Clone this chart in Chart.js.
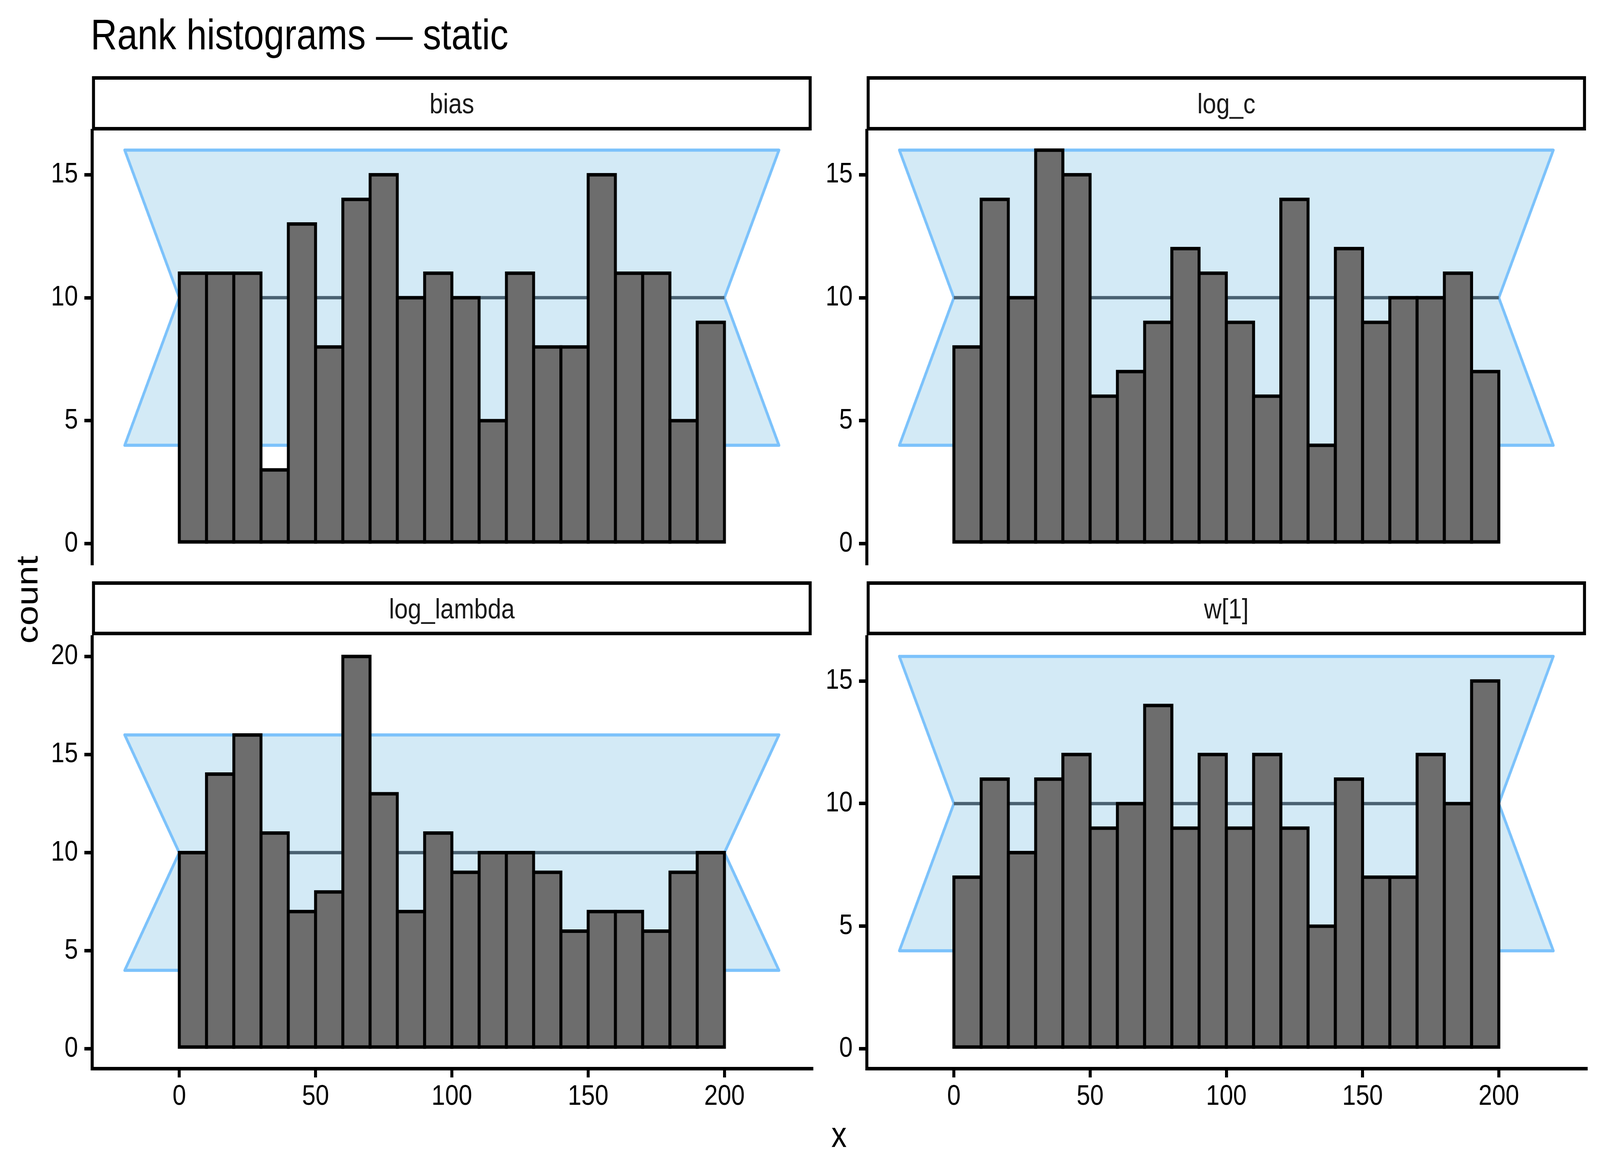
<!DOCTYPE html>
<html>
<head>
<meta charset="utf-8">
<script src="https://cdn.jsdelivr.net/npm/chart.js@4.4.1/dist/chart.umd.min.js"></script>
<style>
html, body { margin: 0; padding: 0; background: #fff; overflow: hidden; }
#root { position: absolute; left: 0; top: 0; width: 4800px; height: 3000px; background: #fff; overflow: hidden;
  transform-origin: 0 0; font-family: "Liberation Sans", Arial, sans-serif; }
canvas { position: absolute; }
.strip { position: absolute; box-sizing: border-box; border: 9px solid #000; background: #fff;
  display: flex; align-items: center; justify-content: center;
  font-size: 73px; line-height: 73px; color: #1a1a1a; white-space: nowrap; }
.title { position: absolute; left: 272px; top: 33px; font-size: 110px; line-height: 110px; color: #000; white-space: nowrap; }
.xtitle { position: absolute; left: 2317px; width: 400px; top: 2858px; text-align: center; font-size: 92px; line-height: 92px; color: #000; }
.ytitle { position: absolute; left: -120px; width: 400px; top: 1489px; height: 92px; text-align: center;
  font-size: 92px; line-height: 92px; color: #000; transform: rotate(-90deg); }
</style>
</head>
<body>
<div id="root">
  <div class="title">Rank histograms — static</div>
  <div class="strip" id="s0"></div>
  <div class="strip" id="s1"></div>
  <div class="strip" id="s2"></div>
  <div class="strip" id="s3"></div>
  <canvas id="c0"></canvas>
  <canvas id="c1"></canvas>
  <canvas id="c2"></canvas>
  <canvas id="c3"></canvas>
  <div class="xtitle">x</div>
  <div class="ytitle">count</div>
</div>
<script>
// ---- data ----
const panelNames = ['bias', 'log_c', 'log_lambda', 'w[1]'];
const binCenters = [5, 15, 25, 35, 45, 55, 65, 75, 85, 95, 105, 115, 125, 135, 145, 155, 165, 175, 185, 195];
const biasCounts      = [11, 11, 11, 3, 13, 8, 14, 15, 10, 11, 10, 5, 11, 8, 8, 15, 11, 11, 5, 9];
const logCCounts      = [8, 14, 10, 16, 15, 6, 7, 9, 12, 11, 9, 6, 14, 4, 12, 9, 10, 10, 11, 7];
const logLambdaCounts = [10, 14, 16, 11, 7, 8, 20, 13, 7, 11, 9, 10, 10, 9, 6, 7, 7, 6, 9, 10];
const w1Counts        = [7, 11, 8, 11, 12, 9, 10, 14, 9, 12, 9, 12, 9, 5, 11, 7, 7, 12, 10, 15];
// confidence band polygon (vertex list, closed)
const bandX = [-20, 0, -20, 220, 200, 220, -20];
const bandY = [16, 10, 4, 4, 10, 16, 16];
// expected count line
const meanX = [0, 200];
const meanY = [10, 10];
// tick labels
const xTicks = [0, 50, 100, 150, 200];
const yTicks15 = [0, 5, 10, 15];
const yTicks20 = [0, 5, 10, 15, 20];
// axis limits
const xLimits = [-32, 232];
const yLimits16 = [-0.8, 16.8];
const yLimits20 = [-1, 21];

// ---- fit page to viewport ----
const root = document.getElementById('root');
function fit() {
  const sx = window.innerWidth / 4800, sy = window.innerHeight / 3000;
  root.style.transform = 'scale(' + sx + ',' + sy + ')';
}
fit();
window.addEventListener('resize', fit);

// ---- styling / layout ----
Chart.defaults.font.family = '"Liberation Sans", Arial, sans-serif';
const Y_W = 200, X_H = 140, PAD = 10;
const layout = [
  { strip: [276, 195, 2159, 139], canvas: [76, 324], plotW: 2159, plotH: 1108, showX: false },
  { strip: [2600, 195, 2158, 139], canvas: [2400, 324], plotW: 2158, plotH: 1108, showX: false },
  { strip: [276, 1488, 2159, 138], canvas: [76, 1620], plotW: 2159, plotH: 1105, showX: true },
  { strip: [2600, 1488, 2158, 138], canvas: [2400, 1620], plotW: 2158, plotH: 1105, showX: true }
];
const panelCounts = [biasCounts, logCCounts, logLambdaCounts, w1Counts];
const panelYLim = [yLimits16, yLimits16, yLimits20, yLimits16];
const panelYTicks = [yTicks15, yTicks15, yTicks20, yTicks15];

function toPts(xs, ys) { return xs.map((x, i) => ({ x: x, y: ys[i] })); }

panelNames.forEach((name, i) => {
  const L = layout[i];
  const s = document.getElementById('s' + i);
  s.textContent = name;
  s.style.left = L.strip[0] + 'px'; s.style.top = L.strip[1] + 'px';
  s.style.width = L.strip[2] + 'px'; s.style.height = L.strip[3] + 'px';

  const cv = document.getElementById('c' + i);
  const w = Y_W + L.plotW + PAD;
  const h = PAD + L.plotH + (L.showX ? X_H : PAD);
  cv.width = w; cv.height = h;
  cv.style.width = w + 'px'; cv.style.height = h + 'px';
  cv.style.left = L.canvas[0] + 'px'; cv.style.top = L.canvas[1] + 'px';

  const counts = panelCounts[i];
  const gridOpts = { display: true, drawOnChartArea: false, drawTicks: true, tickLength: 23,
    tickWidth: 9, tickColor: '#000', lineWidth: 9, color: '#000', offset: false };
  const tickFont = { size: 73, lineHeight: 1.2 };

  new Chart(cv, {
    type: 'bar',
    data: {
      datasets: [
        {
          type: 'bar',
          data: toPts(binCenters, counts),
          backgroundColor: '#6d6d6d',
          borderColor: '#000',
          borderWidth: 9,
          borderSkipped: false,
          inflateAmount: 4.5,
          barPercentage: 1.0,
          categoryPercentage: 1.0,
          order: 0
        },
        {
          type: 'line',
          data: toPts(meanX, meanY),
          borderColor: '#4a6272',
          borderWidth: 8.5,
          pointRadius: 0,
          fill: false,
          tension: 0,
          order: 1
        },
        {
          type: 'line',
          data: toPts(bandX, bandY),
          borderColor: '#7cc2fb',
          backgroundColor: '#d3eaf6',
          borderWidth: 8,
          borderJoinStyle: 'round',
          borderCapStyle: 'round',
          pointRadius: 0,
          fill: 'shape',
          tension: 0,
          order: 2
        }
      ]
    },
    options: {
      responsive: false,
      maintainAspectRatio: false,
      devicePixelRatio: 1,
      animation: false,
      events: [],
      layout: { padding: { top: PAD, bottom: L.showX ? 0 : PAD, left: 0, right: PAD } },
      plugins: { legend: { display: false }, tooltip: { enabled: false }, title: { display: false } },
      scales: {
        x: {
          type: 'linear',
          min: xLimits[0], max: xLimits[1],
          offset: false,
          display: L.showX,
          grid: gridOpts,
          border: { display: true, width: 9, color: '#000' },
          ticks: { color: '#000', font: tickFont, padding: 6, autoSkip: false, maxRotation: 0, minRotation: 0 },
          afterBuildTicks: (sc) => { sc.ticks = xTicks.map(v => ({ value: v })); },
          afterFit: (sc) => { sc.height = L.showX ? X_H : 0; sc.paddingLeft = 0; sc.paddingRight = 0; }
        },
        y: {
          type: 'linear',
          min: panelYLim[i][0], max: panelYLim[i][1],
          grid: gridOpts,
          border: { display: true, width: 9, color: '#000' },
          ticks: { color: '#000', font: tickFont, padding: 19 },
          afterBuildTicks: (sc) => { sc.ticks = panelYTicks[i].map(v => ({ value: v })); },
          afterFit: (sc) => { sc.width = Y_W; sc.paddingTop = 0; sc.paddingBottom = 0; }
        }
      }
    }
  });
});
</script>
</body>
</html>
